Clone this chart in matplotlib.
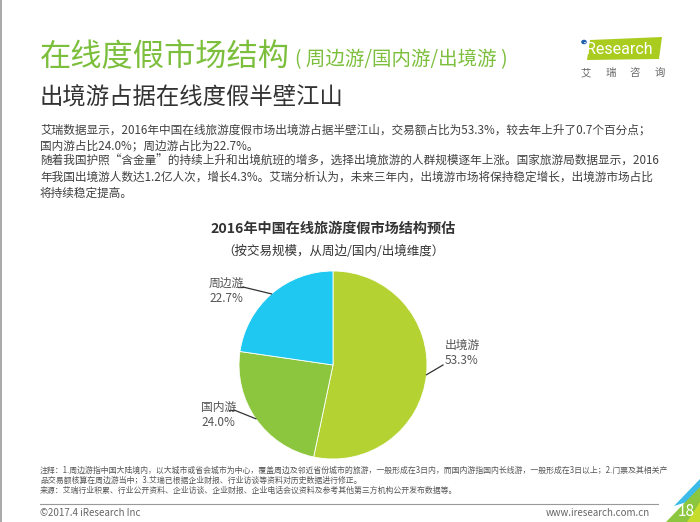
import matplotlib
matplotlib.use("Agg")
import matplotlib.pyplot as plt
import numpy as np
from matplotlib.patches import Polygon

plt.rcParams['font.family'] = ['Noto Sans CJK SC', 'DejaVu Sans']

# ---- data ----
categories = ['出境游', '国内游', '周边游']
shares = [53.3, 24.0, 22.7]
colors = ['#b4d333', '#8cc63e', '#1ec8f0']

title_main = '在线度假市场结构'
title_paren = '( 周边游/国内游/出境游 )'
subtitle = '出境游占据在线度假半壁江山'
body_lines = [
    '艾瑞数据显示，2016年中国在线旅游度假市场出境游占据半壁江山，交易额占比为53.3%，较去年上升了0.7个百分点；',
    '国内游占比24.0%；周边游占比为22.7%。',
    '随着我国护照“含金量”的持续上升和出境航班的增多，选择出境旅游的人群规模逐年上涨。国家旅游局数据显示，2016',
    '年我国出境游人数达1.2亿人次，增长4.3%。艾瑞分析认为，未来三年内，出境游市场将保持稳定增长，出境游市场占比',
    '将持续稳定提高。',
]
chart_title = '2016年中国在线旅游度假市场结构预估'
chart_subtitle = '（按交易规模，从周边/国内/出境维度）'
notes = [
    '注释：1.周边游指中国大陆境内，以大城市或省会城市为中心，覆盖周边及邻近省份城市的旅游，一般形成在3日内，而国内游指国内长线游，一般形成在3日以上；2.门票及其相关产',
    '品交易额核算在周边游当中；3.艾瑞已根据企业财报、行业访谈等资料对历史数据进行修正。',
    '来源：艾瑞行业积累、行业公开资料、企业访谈、企业财报、企业电话会议资料及参考其他第三方机构公开发布数据等。',
]
footer_left = '©2017.4 iResearch Inc'
footer_right = 'www.iresearch.com.cn'
page_no = '18'

W, H = 700, 522
fig = plt.figure(figsize=(W / 100, H / 100), dpi=100)
fig.patch.set_facecolor('white')

def fx(x):
    return x / W

def fy(y):
    return 1 - y / H

# left border line
fig.add_artist(plt.Line2D([fx(0.5), fx(0.5)], [0, 1], color='#9a9a9a', lw=1.2))

# ---- header ----
fig.text(fx(40), fy(57), title_main, fontsize=22.5, color='#7cbf3c', va='center', ha='left')
fig.text(fx(295), fy(60), title_paren, fontsize=14, color='#7cbf3c', va='center', ha='left')
fig.text(fx(40), fy(98), subtitle, fontsize=16.8, color='#333333', va='center', ha='left')

# logo
logo = Polygon([[fx(587), fy(60)], [fx(590), fy(40)], [fx(662), fy(37)], [fx(659), fy(59)]],
               closed=True, transform=fig.transFigure, facecolor='#a9cc1f', edgecolor='none')
fig.add_artist(logo)
fig.text(fx(583), fy(49), 'iResearch', fontsize=11.5, color='white', ha='left', va='center',
         family=['Roboto', 'DejaVu Sans'])
fig.add_artist(plt.Circle((fx(584), fy(42)), 0.003, transform=fig.transFigure, color='#2060b0'))
for i, ch in enumerate('艾瑞咨询'):
    fig.text(fx(586 + i * 24.5), fy(73), ch, fontsize=7.5, color='#666666', ha='center', va='center')

# ---- body text ----
for i, line in enumerate(body_lines):
    fig.text(fx(40), fy(130 + i * 15.8), line, fontsize=8.4, color='#404040', ha='left', va='center')

# ---- chart title ----
fig.text(fx(333), fy(229), chart_title, fontsize=10.2, fontweight='bold', color='#333333',
         ha='center', va='center')
fig.text(fx(333), fy(251), chart_subtitle, fontsize=9, color='#333333', ha='center', va='center')

# ---- pie ----
cx, cy, r = 333, 365, 94
ax = fig.add_axes([fx(cx - r), fy(cy + r), 2 * r / W, 2 * r / H])
wedges, _ = ax.pie(shares, colors=colors, startangle=90, counterclock=False,
                   wedgeprops=dict(linewidth=0.6, edgecolor='white'))
ax.set_aspect('equal')
ax.set_xlim(-1, 1)
ax.set_ylim(-1, 1)

label_pos = {'出境游': (445, 345, 'left'), '国内游': (201, 407, 'left'), '周边游': (209, 283, 'left')}
elbows = {'出境游': (443, 365), '国内游': (234, 410), '周边游': (243, 287)}
for w, cat, val in zip(wedges, categories, shares):
    ang = np.deg2rad((w.theta1 + w.theta2) / 2)
    px, py = np.cos(ang), np.sin(ang)
    ex, ey = elbows[cat]
    exd, eyd = (ex - cx) / r, (cy - ey) / r
    ax.plot([px, exd], [py, eyd], color='#333333', lw=0.9, clip_on=False)
    if cat != '出境游':
        ax.plot([exd, exd - 5 / r], [eyd, eyd], color='#333333', lw=0.9, clip_on=False)
    lx, ly, ha = label_pos[cat]
    fig.text(fx(lx), fy(ly), cat, fontsize=8.5, color='#555555', ha=ha, va='center')
    fig.text(fx(lx), fy(ly + 16), f'{val:.1f}%', fontsize=8.5, color='#555555', ha=ha, va='center')

# ---- notes ----
note_y = [470.5, 480.5, 490]
for y, line in zip(note_y, notes):
    fig.text(fx(40), fy(y), line, fontsize=5.7, color='#555555', ha='left', va='center')

fig.add_artist(plt.Line2D([fx(40), fx(658)], [fy(504), fy(504)], color='#999999', lw=0.8))
fig.text(fx(40), fy(513), footer_left, fontsize=7, color='#666666', ha='left', va='center')
fig.text(fx(650), fy(513), footer_right, fontsize=7, color='#666666', ha='right', va='center')

# corner decoration
for pts, c in [([(674, 506), (700, 479), (700, 498)], '#3cbbe8'),
               ([(666, 522), (700, 487), (700, 522)], '#8cc63e'),
               ([(687, 522), (700, 502), (700, 522)], '#c6dc2c')]:
    fig.add_artist(Polygon([[fx(a), fy(b)] for a, b in pts], closed=True,
                           transform=fig.transFigure, facecolor=c, edgecolor='none'))
fig.text(fx(686), fy(512), page_no, fontsize=11, color='white', ha='center', va='center')

fig.savefig('out.png', dpi=100, facecolor='white')
